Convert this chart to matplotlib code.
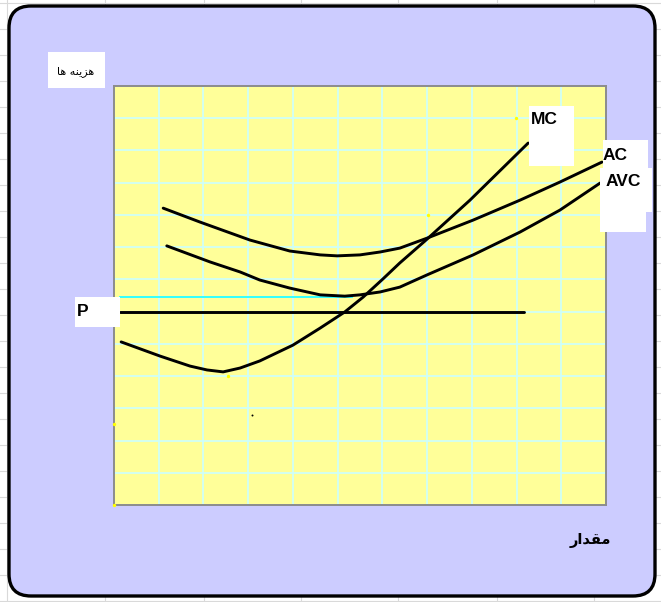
import matplotlib
matplotlib.use("Agg")
import matplotlib.pyplot as plt
from matplotlib.patches import FancyBboxPatch, Rectangle

# ---- data (quantity on x, cost on y, in grid units) ----
ac_x = [1.10, 1.92, 3.04, 3.93, 4.61, 4.99, 5.50, 5.95, 6.39, 7.00, 8.03, 9.08, 9.97, 10.91]
ac_y = [9.21, 8.78, 8.22, 7.88, 7.76, 7.73, 7.76, 7.85, 7.97, 8.28, 8.84, 9.46, 10.02, 10.64]

avc_x = [1.18, 2.15, 2.82, 3.26, 3.93, 4.61, 5.16, 5.50, 5.95, 6.39, 7.00, 8.03, 9.08, 9.97, 10.87]
avc_y = [8.04, 7.54, 7.23, 6.98, 6.73, 6.52, 6.48, 6.52, 6.61, 6.76, 7.14, 7.76, 8.47, 9.15, 9.99]

mc_x = [0.16, 1.03, 1.70, 2.08, 2.44, 2.82, 3.26, 4.00, 4.61, 5.16, 5.57, 6.01, 6.39, 7.00, 7.96, 9.26]
mc_y = [5.06, 4.62, 4.31, 4.19, 4.13, 4.25, 4.47, 4.96, 5.49, 5.99, 6.45, 7.01, 7.51, 8.25, 9.46, 11.23]

price = 6.0
price_x = [0.13, 9.17]
guide_y = 6.45
guide_x = [0.13, 5.32]

dots_x = [0.0, 0.0, 8.99, 7.02, 2.55]
dots_y = [2.51, 0.0, 12.0, 9.0, 4.0]

curve_labels = ["MC", "AC", "AVC", "P"]
y_title = "\uFE8E\uFEEB \uFEEA\uFEE8\uFEF3\uFEB0\uFEEB"   # هزینه ها (shaped, visual order)
x_title = "\uFEAD\uFE8D\uFEAA\uFED8\uFEE3"                # مقدار (shaped, visual order)

W, H = 661, 602
fig = plt.figure(figsize=(W / 100, H / 100), dpi=100)
fig.patch.set_facecolor("white")


def frac(x0, y0, x1, y1):
    """pixel box (top-left origin) -> figure fraction rect"""
    return [x0 / W, 1 - y1 / H, (x1 - x0) / W, (y1 - y0) / H]


# background layer: sheet gridlines + rounded panel
bg = fig.add_axes([0, 0, 1, 1], zorder=0)
bg.set_xlim(0, W)
bg.set_ylim(H, 0)
bg.axis("off")
for gx in [7, 105, 204, 301, 398, 497, 594]:
    bg.axvline(gx, color="#d9d9d9", lw=0.8, zorder=0)
for gy in range(3, H, 26):
    bg.axhline(gy, color="#d9d9d9", lw=0.8, zorder=0)
panel = FancyBboxPatch((9, 6), 646, 590, boxstyle="round,pad=0,rounding_size=22",
                       facecolor="#ccccff", edgecolor="black", lw=2.4, zorder=1)
bg.add_patch(panel)

# plot area
ax = fig.add_axes(frac(114, 86, 606, 505), zorder=2)
ax.set_facecolor("#ffff99")
ax.set_xlim(0, 11)
ax.set_ylim(0, 13)
ax.set_xticks(range(12))
ax.set_yticks(range(14))
ax.tick_params(length=0, labelleft=False, labelbottom=False)
ax.grid(True, color="#ccffff", lw=1.2)
for s in ax.spines.values():
    s.set_color("#8c8c8c")
    s.set_linewidth(1.4)

line_kw = dict(color="black", lw=2.1, solid_capstyle="round", solid_joinstyle="round")
ax.plot(guide_x, [guide_y, guide_y], color="#33ffff", lw=1.4)
ax.plot(price_x, [price, price], **line_kw)
ax.plot(ac_x, ac_y, **line_kw)
ax.plot(avc_x, avc_y, **line_kw)
ax.plot(mc_x, mc_y, **line_kw)
ax.scatter(dots_x, dots_y, s=6, color="#ffff00", zorder=5, clip_on=False, linewidths=0)
ax.scatter([3.09], [2.79], s=2, color="black", zorder=5, linewidths=0)

# overlay: white label boxes and titles
ov = fig.add_axes([0, 0, 1, 1], zorder=4)
ov.set_xlim(0, W)
ov.set_ylim(H, 0)
ov.axis("off")
ov.patch.set_alpha(0)

boxes = [(529, 106, 574, 166), (603, 140, 648, 212), (600, 168, 652, 212),
         (600, 168, 646, 232), (75, 297, 120, 327), (48, 52, 105, 88)]
for x0, y0, x1, y1 in boxes:
    ov.add_patch(Rectangle((x0, y0), x1 - x0, y1 - y0, facecolor="white", edgecolor="none"))

lab_font = dict(family="Liberation Sans", fontweight="bold", fontsize=12.5, va="center", ha="left")
ov.text(531, 120, curve_labels[0], **lab_font)
ov.text(603, 155, curve_labels[1], **lab_font)
ov.text(606, 182, curve_labels[2], **lab_font)
ov.text(77, 312, curve_labels[3], **lab_font)

ov.text(76, 72, y_title, family="DejaVu Sans", fontsize=8, ha="center", va="center")
ov.text(590, 541, x_title, family="DejaVu Sans", fontsize=10.5, fontweight="bold",
        ha="center", va="center")

fig.savefig("out.png", dpi=100)
